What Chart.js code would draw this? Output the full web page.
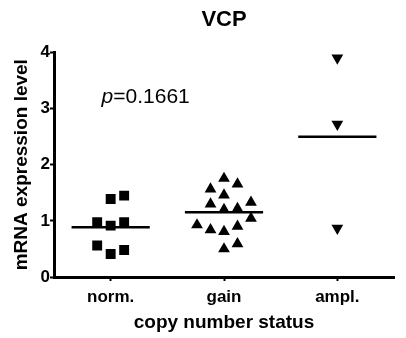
<!DOCTYPE html>
<html>
<head>
<meta charset="utf-8">
<script src="https://cdn.jsdelivr.net/npm/chart.js@4.4.1/dist/chart.umd.min.js"></script>
<style>
  html, body { margin: 0; padding: 0; background: #fff; }
</style>
</head>
<body>
<canvas id="vcpChart" width="406" height="338"></canvas>
<script>
// groups on the x axis
const groupLabels = ['norm.', 'gain', 'ampl.'];

// mRNA expression values per group
const normValues = [1.39, 1.45, 0.975, 0.915, 0.975, 0.56, 0.41, 0.48];
const gainValues = [1.755, 1.654, 1.566, 1.459, 1.30, 1.33, 1.20, 1.22, 1.046, 0.927, 0.839, 0.81, 0.904, 0.59, 0.50];
const amplValues = [3.90, 2.72, 0.87];

// horizontal mean bars
const groupMeans = [0.887, 1.152, 2.50];

// y axis ticks
const yTicks = [0, 1, 2, 3, 4];

// column slot of each point inside its group (scatter spread)
const normCols = [0, 1, -1, 0, 1, -1, 0, 1];
const gainCols = [0, 1, -1, 0, -1, 2, 0, 1, 2, -2, -1, 0, 1, 1, 0];
const amplCols = [0, 0, 0];

const pText = '0.1661';

const FONT = "'Liberation Sans', Arial, Helvetica, sans-serif";
const colStep = 0.119;   // spread between columns, in x units
const barHalf = 0.345;   // half width of mean bar

function toPoints(values, cols, groupIndex) {
    const pts = [];
    for (let i = 0; i < values.length; i++) {
        pts.push({ x: groupIndex + 1 + cols[i] * colStep, y: values[i] });
    }
    return pts;
}

function meanLine(i) {
    return {
        type: 'scatter',
        data: [{ x: i + 1 - barHalf, y: groupMeans[i] }, { x: i + 1 + barHalf, y: groupMeans[i] }],
        showLine: true,
        borderColor: '#000',
        borderWidth: 2.5,
        pointRadius: 0
    };
}

// p-value text inside the plot
const pValuePlugin = {
    id: 'pValue',
    afterDatasetsDraw(chart) {
        const ctx = chart.ctx;
        const x = chart.scales.x.getPixelForValue(0.92);
        const y = chart.scales.y.getPixelForValue(3.2);
        ctx.save();
        ctx.fillStyle = '#000';
        ctx.textBaseline = 'middle';
        ctx.textAlign = 'left';
        ctx.font = 'italic 21px ' + FONT;
        ctx.fillText('p', x, y);
        const w = ctx.measureText('p').width;
        ctx.font = '21px ' + FONT;
        ctx.fillText('=' + pText, x + w, y);
        ctx.restore();
    }
};

const ctx = document.getElementById('vcpChart');

new Chart(ctx, {
    type: 'scatter',
    data: {
        datasets: [
            {
                data: toPoints(normValues, normCols, 0),
                pointStyle: 'rect',
                pointRadius: 7,
                backgroundColor: '#000',
                borderColor: '#000',
                borderWidth: 0
            },
            {
                data: toPoints(gainValues, gainCols, 1),
                pointStyle: 'triangle',
                pointRadius: 6.8,
                backgroundColor: '#000',
                borderColor: '#000',
                borderWidth: 0
            },
            {
                data: toPoints(amplValues, amplCols, 2),
                pointStyle: 'triangle',
                rotation: 180,
                pointRadius: 6.8,
                backgroundColor: '#000',
                borderColor: '#000',
                borderWidth: 0
            },
            meanLine(0),
            meanLine(1),
            meanLine(2)
        ]
    },
    options: {
        responsive: false,
        animation: false,
        layout: { padding: { left: 0, right: 12, top: 0, bottom: 0 } },
        plugins: {
            legend: { display: false },
            tooltip: { enabled: false },
            title: {
                display: true,
                text: 'VCP',
                fullSize: false,
                color: '#000',
                font: { family: FONT, size: 22, weight: 'bold' },
                padding: { top: 7, bottom: 19 }
            }
        },
        scales: {
            x: {
                type: 'linear',
                min: 0.5,
                max: 3.5,
                afterBuildTicks: function (scale) {
                    scale.ticks = groupLabels.map((l, i) => ({ value: i + 1 }));
                },
                afterFit: function (scale) { scale.height = 61; },
                ticks: {
                    color: '#000',
                    padding: 6,
                    font: { family: FONT, size: 17, weight: 'bold' },
                    callback: function (v) { return groupLabels[v - 1]; }
                },
                grid: { drawOnChartArea: false, drawTicks: true, tickLength: 4, tickWidth: 2, tickColor: '#000' },
                border: { display: true, color: '#000', width: 3 },
                title: {
                    display: true,
                    text: 'copy number status',
                    color: '#000',
                    font: { family: FONT, size: 19, weight: 'bold' },
                    padding: { top: 0, bottom: 4 }
                }
            },
            y: {
                min: 0,
                max: 4,
                afterBuildTicks: function (scale) {
                    scale.ticks = yTicks.map(v => ({ value: v }));
                },
                afterFit: function (scale) { scale.width = 54; },
                ticks: {
                    color: '#000',
                    padding: 0,
                    font: { family: FONT, size: 17, weight: 'bold' }
                },
                grid: { drawOnChartArea: false, drawTicks: true, tickLength: 4, tickWidth: 2, tickColor: '#000' },
                border: { display: true, color: '#000', width: 3 },
                title: {
                    display: true,
                    text: 'mRNA expression level',
                    color: '#000',
                    font: { family: FONT, size: 19, weight: 'bold' },
                    padding: { top: 10, bottom: 0 }
                }
            }
        }
    },
    plugins: [pValuePlugin]
});
</script>
</body>
</html>
